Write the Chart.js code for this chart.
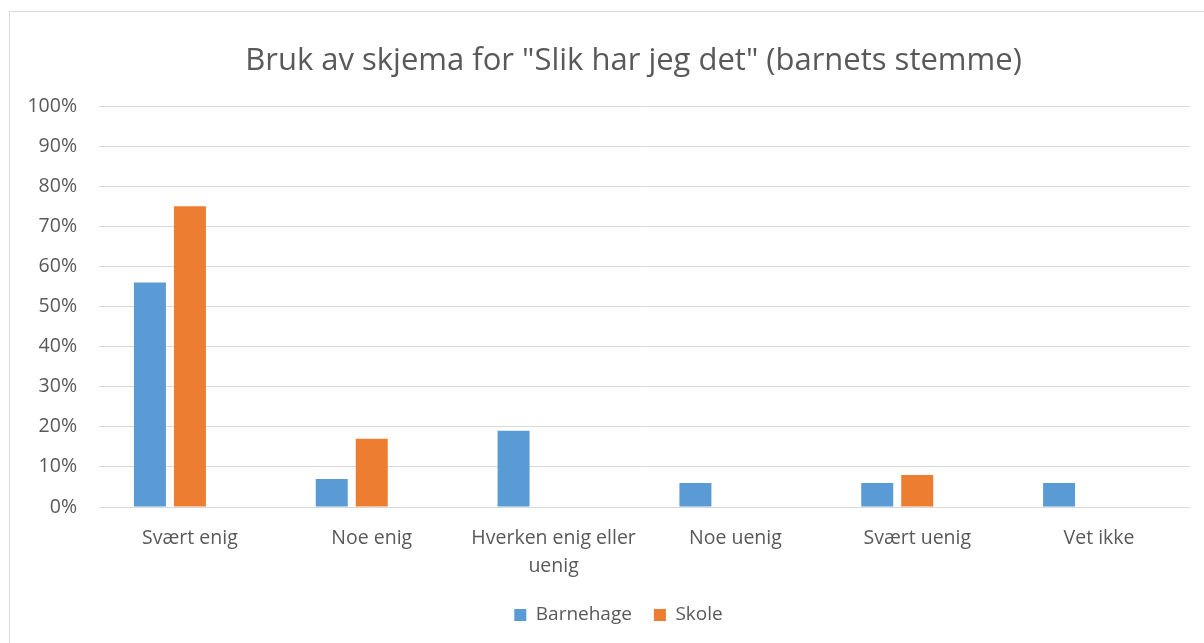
<!DOCTYPE html>
<html>
<head>
<meta charset="utf-8">
<script src="https://cdn.jsdelivr.net/npm/chart.js@4"></script>
<style>
  html, body { margin: 0; padding: 0; background: #fff; }
  #frame { position: absolute; left: 9px; top: 11px; width: 1195px; height: 632px;
           border-left: 1px solid #d9d9d9; border-top: 1px solid #d9d9d9; box-sizing: border-box; }
  #wrap { position: absolute; left: 1px; top: 1px; width: 1194px; height: 631px; }
</style>
</head>
<body>
<div id="frame"><div id="wrap"><canvas id="c"></canvas></div></div>
<script>
const title = 'Bruk av skjema for "Slik har jeg det" (barnets stemme)';
const categories = ["Svært enig", "Noe enig", ["Hverken enig eller", "uenig"], "Noe uenig", "Svært uenig", "Vet ikke"];
const barnehage = [56, 7, 19, 6, 6, 6];
const skole = [75, 17, 0, 0, 8, 0];
const emptySeries = [null, null, null, null, null, null];
const yTicks = [0, 10, 20, 30, 40, 50, 60, 70, 80, 90, 100];

const FONT = "'Open Sans', sans-serif";
const TXT = "#595959";

const boxShift = {
  id: 'boxShift',
  afterLayout(chart) {
    const t = chart.titleBlock;
    if (t) { t.left += 33; t.right += 33; }
    const l = chart.legend;
    if (l) { l.left += 18; l.right += 18; }
  }
};

new Chart(document.getElementById('c'), {
  type: 'bar',
  data: {
    labels: categories,
    datasets: [
      { label: 'Barnehage', data: barnehage, backgroundColor: '#5B9BD5', borderWidth: 0 },
      { label: 'Skole', data: skole, backgroundColor: '#ED7D31', borderWidth: 0 },
      { label: '', data: emptySeries, backgroundColor: '#A5A5A5', borderWidth: 0 }
    ]
  },
  plugins: [boxShift],
  options: {
    responsive: true,
    maintainAspectRatio: false,
    animation: false,
    categoryPercentage: 0.66,
    barPercentage: 0.8,
    layout: { padding: { left: 0, right: 15, top: 0, bottom: 9.5 } },
    plugins: {
      title: {
        display: true, text: title, color: TXT,
        font: { family: FONT, size: 31, weight: 'normal' },
        padding: { top: 29.4, bottom: 26.4 }
      },
      legend: {
        position: 'bottom',
        labels: {
          color: TXT, font: { family: FONT, size: 19 },
          boxWidth: 12, boxHeight: 12, padding: 22,
          filter: (item) => item.text !== ''
        }
      },
      tooltip: { enabled: false }
    },
    scales: {
      x: {
        grid: { display: false, drawTicks: false },
        border: { display: false },
        ticks: { color: TXT, font: { family: FONT, size: 19.5, lineHeight: 1.44 }, padding: 17, maxRotation: 0, autoSkip: false },
        afterFit: (s) => { s.height = 76.5; }
      },
      y: {
        min: 0, max: 100,
        grid: { color: '#d9d9d9', lineWidth: 1, drawTicks: false },
        border: { display: false },
        afterBuildTicks: (s) => { s.ticks = yTicks.map(v => ({ value: v })); },
        ticks: { color: TXT, font: { family: FONT, size: 19.5 }, padding: 22, callback: (v) => v + '%' },
        afterFit: (s) => { s.width = 88; }
      }
    }
  }
});
</script>
</body>
</html>
